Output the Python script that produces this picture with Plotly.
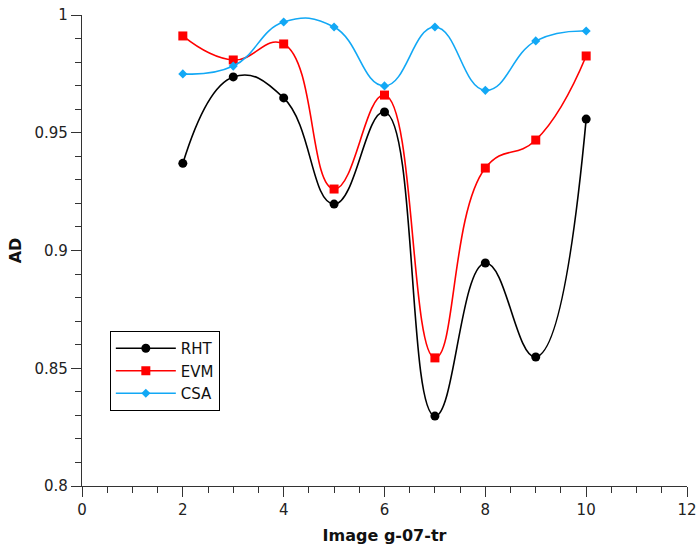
import plotly.graph_objects as go

x_vals = [2, 3, 4, 5, 6, 7, 8, 9, 10]
rht = [0.937, 0.9737, 0.9648, 0.9197, 0.9588, 0.8297, 0.8947, 0.8548, 0.9558]
evm = [0.9911, 0.9809, 0.9877, 0.9261, 0.966, 0.8544, 0.935, 0.9469, 0.9826]
csa = [0.975, 0.9783, 0.997, 0.9949, 0.9699, 0.9949, 0.968, 0.989, 0.9932]

series = [
    ("RHT", rht, "black", "circle", 9),
    ("EVM", evm, "#ff0000", "square", 9),
    ("CSA", csa, "#12a8f5", "diamond", 7),
]

fig = go.Figure()
for name, vals, color, sym, size in series:
    fig.add_trace(go.Scatter(
        x=x_vals, y=vals, name=name, mode="lines+markers",
        line=dict(color=color, width=1.6, shape="spline", smoothing=1.3),
        marker=dict(symbol=sym, size=size, color=color),
    ))

font = "DejaVu Sans, sans-serif"
fig.update_layout(
    width=699, height=547,
    margin=dict(l=82, r=12, t=15, b=61, autoexpand=False),
    plot_bgcolor="white", paper_bgcolor="white",
    font=dict(family=font, size=15, color="#222"),
    showlegend=True,
    legend=dict(x=0.046, y=0.329, xanchor="left", yanchor="top",
                bordercolor="black", borderwidth=1, bgcolor="white",
                font=dict(size=15, color="#111"), tracegroupgap=0,
                itemwidth=60),
)
fig.update_xaxes(
    range=[0, 12], tickvals=[0, 2, 4, 6, 8, 10, 12], automargin=False,
    ticklabeloverflow="allow",
    showgrid=False, zeroline=False, showline=True, linecolor="#333", linewidth=1.2,
    ticks="outside", ticklen=10, tickcolor="#333",
    minor=dict(ticks="outside", ticklen=6, tickcolor="#333", dtick=0.5),
    title=dict(text="<b>Image g-07-tr</b>", font=dict(size=16, color="#111"), standoff=11),
)
fig.update_yaxes(
    range=[0.8, 1], tickvals=[0.8, 0.85, 0.9, 0.95, 1], automargin=False,
    ticktext=["0.8", "0.85", "0.9", "0.95", "1"], ticklabeloverflow="allow",
    showgrid=False, zeroline=False, showline=True, linecolor="#333", linewidth=1.2,
    ticks="outside", ticklen=10, tickcolor="#333",
    minor=dict(ticks="outside", ticklen=6, tickcolor="#333", dtick=0.01),
    title=dict(text="<b>AD</b>", font=dict(size=16, color="#111"), standoff=8),
)

fig.write_html(
    "out.html",
    config={"displayModeBar": False},
    post_script="document.body.style.margin='0';document.body.style.overflow='hidden';",
)
